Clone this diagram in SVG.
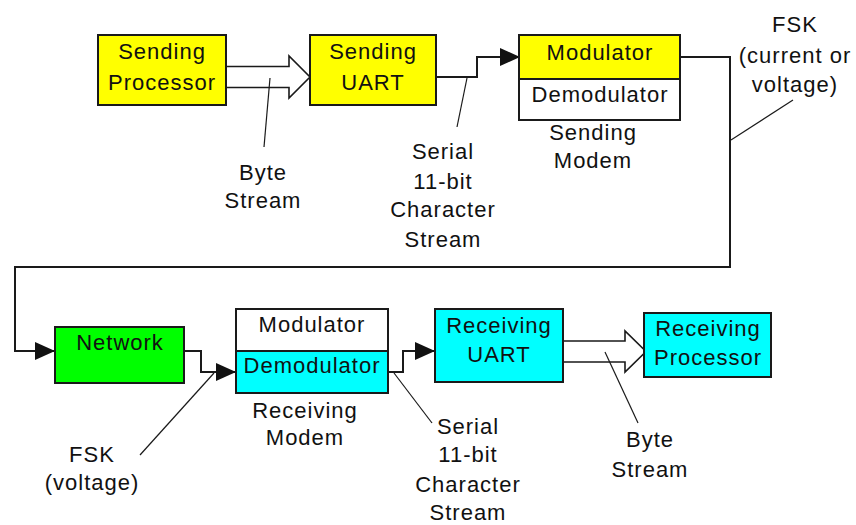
<svg xmlns="http://www.w3.org/2000/svg" width="856" height="525" viewBox="0 0 856 525">
  <defs>
    <style>
      .box { stroke: #1a1a1a; stroke-width: 2; }
      .yellow { fill: #ffff00; }
      .cyan { fill: #00ffff; }
      .green { fill: #00ff00; }
      .white { fill: #ffffff; }
      .wire { fill: none; stroke: #1a1a1a; stroke-width: 2; }
      .leader { fill: none; stroke: #1a1a1a; stroke-width: 1.2; }
      .hollow { fill: #ffffff; stroke: #1a1a1a; stroke-width: 1.6; stroke-linejoin: miter; }
      text { font-family: "Liberation Sans", Arial, sans-serif; font-size: 22px; letter-spacing: 1px; fill: #111; text-anchor: middle; }
    </style>
    <marker id="head" markerWidth="20" markerHeight="18" refX="20" refY="9" orient="auto" markerUnits="userSpaceOnUse">
      <path d="M0,0 L20,9 L0,18 Z" fill="#111"/>
    </marker>
  </defs>

  <rect width="856" height="525" fill="#ffffff"/>

  <!-- connectors -->
  <g id="connectors">
    <!-- byte stream, processor to UART (wide arrow) -->
    <path class="hollow" d="M226,66.5 L289,66.5 L289,56 L310,77 L289,98 L289,87.5 L226,87.5"/>
    <!-- serial line, UART to modulator -->
    <path class="wire" d="M436,77 L477,77 L477,57 L520,57" marker-end="url(#head)"/>
    <!-- FSK line looping from sending modem down to network -->
    <path class="wire" d="M680,57 L730,57 L730,267 L15,267 L15,351 L55,351" marker-end="url(#head)"/>
    <!-- network to receiving demodulator -->
    <path class="wire" d="M184,351 L201,351 L201,372 L236,372" marker-end="url(#head)"/>
    <!-- demodulator to receiving UART -->
    <path class="wire" d="M388,372 L403,372 L403,351 L435,351" marker-end="url(#head)"/>
    <!-- byte stream, UART to processor (wide arrow) -->
    <path class="hollow" d="M563,341 L625,341 L625,331 L646,351.5 L625,372 L625,362 L563,362"/>

    <!-- label leaders -->
    <path class="leader" d="M270,78 L264,147"/>
    <path class="leader" d="M467,78 L457,127"/>
    <path class="leader" d="M793,100 L731,140"/>
    <path class="leader" d="M214,373 L140,455"/>
    <path class="leader" d="M394,373 L432,423"/>
    <path class="leader" d="M605,352 L638,423"/>
  </g>

  <!-- nodes -->
  <g id="sending-processor">
    <rect class="box yellow" x="98" y="35" width="128" height="70"/>
    <text x="162" y="59">Sending</text>
    <text x="162" y="90">Processor</text>
  </g>

  <g id="sending-uart">
    <rect class="box yellow" x="310" y="35" width="126" height="70"/>
    <text x="373" y="59">Sending</text>
    <text x="373" y="90">UART</text>
  </g>

  <g id="sending-modem">
    <rect class="box yellow" x="519" y="35" width="161" height="44"/>
    <rect class="box white" x="519" y="79" width="161" height="41"/>
    <text x="600" y="60">Modulator</text>
    <text x="600" y="102">Demodulator</text>
    <text x="593" y="140">Sending</text>
    <text x="593" y="168">Modem</text>
  </g>

  <g id="network">
    <rect class="box green" x="55" y="327" width="129" height="56"/>
    <text x="120" y="350">Network</text>
  </g>

  <g id="receiving-modem">
    <rect class="box white" x="236" y="309" width="152" height="42"/>
    <rect class="box cyan" x="236" y="351" width="152" height="42"/>
    <text x="312" y="332">Modulator</text>
    <text x="312" y="373">Demodulator</text>
    <text x="305" y="418">Receiving</text>
    <text x="305" y="445">Modem</text>
  </g>

  <g id="receiving-uart">
    <rect class="box cyan" x="435" y="309" width="128" height="73"/>
    <text x="499" y="333">Receiving</text>
    <text x="499" y="362">UART</text>
  </g>

  <g id="receiving-processor">
    <rect class="box cyan" x="644" y="313" width="127" height="64"/>
    <text x="708" y="336">Receiving</text>
    <text x="708" y="365">Processor</text>
  </g>

  <!-- connector labels -->
  <g id="labels">
    <text x="263" y="180">Byte</text>
    <text x="263" y="208">Stream</text>

    <text x="443" y="159">Serial</text>
    <text x="443" y="189">11-bit</text>
    <text x="443" y="217">Character</text>
    <text x="443" y="247">Stream</text>

    <text x="795" y="32">FSK</text>
    <text x="795" y="63">(current or</text>
    <text x="795" y="92">voltage)</text>

    <text x="92" y="462">FSK</text>
    <text x="92" y="490">(voltage)</text>

    <text x="468" y="434">Serial</text>
    <text x="468" y="462">11-bit</text>
    <text x="468" y="492">Character</text>
    <text x="468" y="520">Stream</text>

    <text x="650" y="447">Byte</text>
    <text x="650" y="477">Stream</text>
  </g>
</svg>
